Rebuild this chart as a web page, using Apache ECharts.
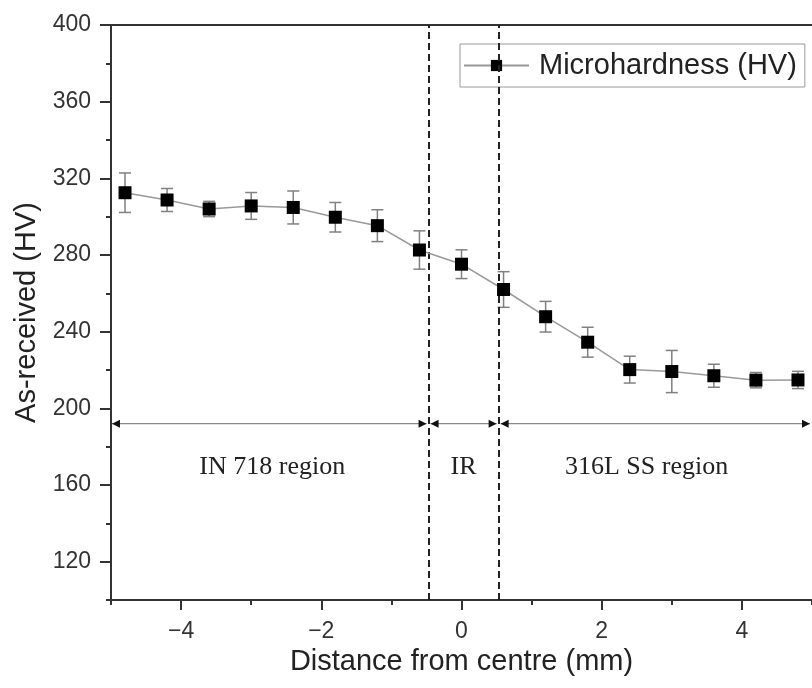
<!DOCTYPE html>
<html><head><meta charset="utf-8">
<script src="https://cdn.jsdelivr.net/npm/echarts@6/dist/echarts.min.js"></script>
<style>html,body{margin:0;padding:0;background:#fff}#c{width:812px;height:688px}</style>
</head><body><div id="c"></div>
<script>
const distances = [-4.8,-4.2,-3.6,-3.0,-2.4,-1.8,-1.2,-0.6,0,0.6,1.2,1.8,2.4,3.0,3.6,4.2,4.8];
const hardness = [312.5,308.7,304,305.6,304.8,299.7,295.3,282.6,275.2,262,247.8,234.5,220.2,219.2,217,214.7,214.8];
const errors = [10.3,6,4,7,8.6,7.7,8.3,10,7.5,9.3,8,7.8,7,11,6,4,4.5];
const xMajorTicks = [-4,-2,0,2,4];
const xMinorTicks = [-5,-3,-1,1,3,5];
const yMajorTicks = [120,160,200,240,280,320,360,400];
const yMinorTicks = [100,140,180,220,260,300,340,380];
const boundaries = [-0.47, 0.53];
const regionSpans = [[-5,-0.47],[-0.47,0.53],[0.53,5]];
const regionArrowY = 192;
const regionLabels = ['IN 718 region','IR','316L SS region'];
const regionLabelX = [-2.70, 0.03, 2.64];
const regionLabelY = 169.4;

const SANS = 'Liberation Sans, Arial, sans-serif';
const SERIF = 'Liberation Serif, Times New Roman, serif';
const AX = '#333';

const chart = echarts.init(document.getElementById('c'), null, {renderer:'canvas'});
const grid = {left:111, top:25, width:708, height:575};

chart.setOption({
  animation:false,
  backgroundColor:'#fff',
  grid: grid,
  legend: {
    left:460, top:44, padding:[7,8,7,3], itemWidth:65, itemHeight:14, itemGap:0,
    borderColor:'#999', borderWidth:1,
    textStyle:{fontSize:29, fontFamily:SANS, color:'#222', padding:[0,0,0,5]},
    data:['Microhardness (HV)']
  },
  xAxis: [
    {type:'value', position:'bottom', min:-5, max:5,
     name:'Distance from centre (mm)', nameLocation:'middle', nameGap:44,
     nameTextStyle:{fontSize:29, fontFamily:SANS, color:'#222'},
     axisLine:{show:true, onZero:false, lineStyle:{color:AX, width:2}},
     axisTick:{show:true, customValues:xMajorTicks, length:10, lineStyle:{color:AX, width:2}},
     axisLabel:{show:true, customValues:xMajorTicks, margin:20, fontSize:23, fontFamily:SANS, color:'#333',
       formatter:v=>String(v).replace('-','\u2212')},
     splitLine:{show:false}},
    {type:'value', position:'top', min:-5, max:5,
     axisLine:{show:true, onZero:false, lineStyle:{color:AX, width:2}},
     axisTick:{show:false}, axisLabel:{show:false}, splitLine:{show:false}},
    {type:'value', position:'bottom', min:-5, max:5,
     axisLine:{show:false, onZero:false},
     axisTick:{show:true, customValues:xMinorTicks, length:5, lineStyle:{color:AX, width:2}},
     axisLabel:{show:false}, splitLine:{show:false}}
  ],
  yAxis: [
    {type:'value', position:'left', min:100, max:400,
     name:'As-received (HV)', nameLocation:'middle', nameGap:56,
     nameTextStyle:{fontSize:29, fontFamily:SANS, color:'#222'},
     axisLine:{show:true, onZero:false, lineStyle:{color:AX, width:2}},
     axisTick:{show:true, customValues:yMajorTicks, length:11, lineStyle:{color:AX, width:2}},
     axisLabel:{show:true, customValues:yMajorTicks, margin:20, fontSize:23, fontFamily:SANS, color:'#333'},
     splitLine:{show:false}},
    {type:'value', position:'left', min:100, max:400,
     axisLine:{show:false, onZero:false},
     axisTick:{show:true, customValues:yMinorTicks, length:5, lineStyle:{color:AX, width:2}},
     axisLabel:{show:false}, splitLine:{show:false}}
  ],
  series: [
    {
      type:'custom', name:'errorbars', xAxisIndex:0, yAxisIndex:0, z:2, silent:true,
      data: distances.map((d,i)=>[d, hardness[i]-errors[i], hardness[i]+errors[i]]),
      renderItem:(params, api)=>{
        const x = api.value(0);
        const a = api.coord([x, api.value(1)]);
        const b = api.coord([x, api.value(2)]);
        const w = 6;
        const st = {stroke:'#808080', lineWidth:1.5};
        return {type:'group', children:[
          {type:'line', shape:{x1:a[0],y1:a[1],x2:b[0],y2:b[1]}, style:st},
          {type:'line', shape:{x1:a[0]-w,y1:a[1],x2:a[0]+w,y2:a[1]}, style:st},
          {type:'line', shape:{x1:b[0]-w,y1:b[1],x2:b[0]+w,y2:b[1]}, style:st}
        ]};
      }
    },
    {
      type:'custom', name:'regions', xAxisIndex:0, yAxisIndex:0, z:2, silent:true, clip:false,
      data: regionSpans.map(s=>[s[0], s[1], regionArrowY]),
      renderItem:(params, api)=>{
        const y = api.value(2);
        const p1 = api.coord([api.value(0), y]);
        const p2 = api.coord([api.value(1), y]);
        const g = params.dataIndex === 0 ? 1 : 2;
        const l = p1[0] + g, r = p2[0] - 2;
        const L = 8, H = 4;
        return {type:'group', children:[
          {type:'line', shape:{x1:l,y1:p1[1],x2:r,y2:p2[1]}, style:{stroke:'#8a8a8a', lineWidth:1.2}},
          {type:'polygon', shape:{points:[[l,p1[1]],[l+L,p1[1]-H],[l+L,p1[1]+H]]}, style:{fill:'#111'}},
          {type:'polygon', shape:{points:[[r,p2[1]],[r-L,p2[1]-H],[r-L,p2[1]+H]]}, style:{fill:'#111'}}
        ]};
      }
    },
    {
      type:'custom', name:'regionLabels', xAxisIndex:0, yAxisIndex:0, z:3, silent:true,
      data: regionLabels.map((t,i)=>[regionLabelX[i], regionLabelY]),
      renderItem:(params, api)=>{
        const p = api.coord([api.value(0), api.value(1)]);
        return {type:'text', x:p[0], y:p[1], style:{text:regionLabels[params.dataIndex], fontSize:26,
          fontFamily:SERIF, fill:'#222', align:'center', verticalAlign:'middle'}};
      }
    },
    {
      type:'line', name:'Microhardness (HV)', xAxisIndex:0, yAxisIndex:0, z:5,
      data: distances.map((d,i)=>[d, hardness[i]]),
      symbol:'rect', symbolSize:13,
      itemStyle:{color:'#000'},
      lineStyle:{color:'#999', width:1.5},
      markLine:{
        silent:true, symbol:'none', label:{show:false},
        lineStyle:{type:[7,4], color:'#222', width:2},
        data: boundaries.map(b=>({xAxis:b}))
      }
    }
  ]
});
</script></body></html>
